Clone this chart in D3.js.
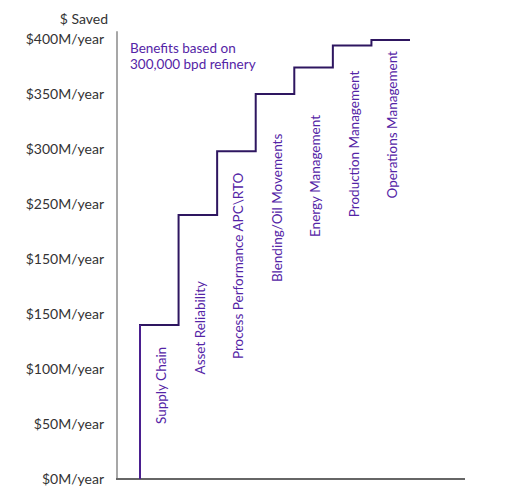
<!DOCTYPE html>
<html>
<head>
<meta charset="utf-8">
<script src="https://cdn.jsdelivr.net/npm/d3@7"></script>
<style>
  body { margin: 0; background: #fff; }
  text { font-family: Lato, "Noto Sans", sans-serif; }
</style>
</head>
<body>
<svg id="chart"></svg>
<script>
// steps of the savings ladder ($M/year, cumulative)
var categories = ["Supply Chain", "Asset Reliability", "Process Performance APC\\RTO",
  "Blending/Oil Movements", "Energy Management", "Production Management", "Operations Management"];
var cumulative = [140, 240, 298, 350, 374, 394, 399];
// where each rotated label begins, in $M units
var labelStart = [50, 95, 109, 179, 220, 238, 255];
var tickValues = [0, 50, 100, 150, 200, 250, 300, 350, 400];
var tickLabels = ["$0M/year", "$50M/year", "$100M/year", "$150M/year", "$150M/year",
  "$250M/year", "$300M/year", "$350M/year", "$400M/year"];

var W = 512, H = 492;
var svg = d3.select("#chart").attr("width", W).attr("height", H);

var y = d3.scaleLinear().domain([0, 400]).range([479, 39]);
var x = d3.scaleLinear().domain([0, 7]).range([140, 410]);

// y axis
var yAxis = svg.append("g")
  .attr("transform", "translate(117,0)")
  .call(d3.axisLeft(y).tickValues(tickValues)
    .tickFormat(function(d, i) { return tickLabels[i]; })
    .tickSize(0).tickPadding(13));
yAxis.select(".domain").remove();
yAxis.selectAll("text")
  .style("font-size", "14px")
  .attr("fill", "#333");

svg.append("line")
  .attr("x1", 117).attr("x2", 117)
  .attr("y1", y(0)).attr("y2", y(407))
  .attr("stroke", "#8a8a8a").attr("stroke-width", 1.5);

svg.append("line")
  .attr("x1", 116).attr("x2", 465)
  .attr("y1", y(0)).attr("y2", y(0))
  .attr("stroke", "#666").attr("stroke-width", 2);

svg.append("text")
  .attr("x", 108).attr("y", 24)
  .attr("text-anchor", "end")
  .style("font-size", "14px")
  .attr("fill", "#333")
  .text("$ Saved");

// step line
var pts = [[0, 0]];
cumulative.forEach(function(v, i) { pts.push([i + 1, v]); });

var line = d3.line()
  .x(function(d) { return x(d[0]); })
  .y(function(d) { return y(d[1]); })
  .curve(d3.curveStepBefore);

svg.append("path")
  .datum(pts)
  .attr("d", line)
  .attr("fill", "none")
  .attr("stroke", "#2e1660")
  .attr("stroke-width", 2);

// first riser is a touch more purple
svg.append("line")
  .attr("x1", x(0)).attr("x2", x(0))
  .attr("y1", y(0)).attr("y2", y(cumulative[0]))
  .attr("stroke", "#4a1f8f").attr("stroke-width", 2);

// category labels
svg.selectAll(".cat")
  .data(categories)
  .enter().append("text")
  .attr("class", "cat")
  .attr("transform", function(d, i) {
    var cx = (x(i) + x(i + 1)) / 2 + 2;
    return "translate(" + cx + "," + y(labelStart[i]) + ") rotate(-90)";
  })
  .attr("dy", "0.35em")
  .style("font-size", "13.5px")
  .attr("fill", "#5424a6")
  .text(function(d) { return d; });

// note
var note = svg.append("text")
  .attr("x", 130).attr("y", 53)
  .style("font-size", "13.5px")
  .attr("fill", "#5424a6");
note.append("tspan").attr("x", 130).text("Benefits based on");
note.append("tspan").attr("x", 130).attr("dy", 16).text("300,000 bpd refinery");
</script>
</body>
</html>
